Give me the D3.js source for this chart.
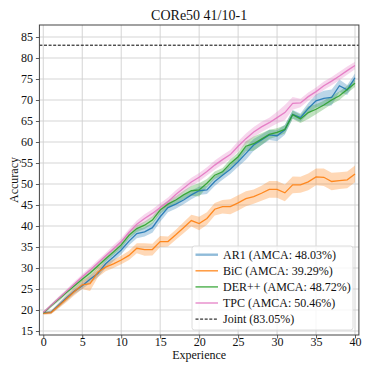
<!DOCTYPE html>
<html><head><meta charset="utf-8">
<script src="https://cdn.jsdelivr.net/npm/d3@7"></script>
<style>
html,body{margin:0;padding:0;background:#fff;}
svg{display:block;font-family:"Liberation Serif","Times New Roman",serif;}
</style></head>
<body>
<svg id="c" width="374" height="374"></svg>
<script>
const title = "CORe50 41/10-1";
const xLabel = "Experience";
const yLabel = "Accuracy";
const experiences = d3.range(0, 41);
const xTicks = [0,5,10,15,20,25,30,35,40];
const yTicks = [15,20,25,30,35,40,45,50,55,60,65,70,75,80,85];
const seriesNames = ["AR1 (AMCA: 48.03%)","BiC (AMCA: 39.29%)","DER++ (AMCA: 48.72%)","TPC (AMCA: 50.46%)"];
const jointLabel = "Joint (83.05%)";
const jointValue = 83.05;
const colors = ["#1f77b4","#ff7f0e","#2ca02c","#e377c2"];

const ar1 = [19.3,19.5,21.2,22.9,24.5,25.8,27.3,28.7,31.0,32.6,34.3,36.4,38.2,38.6,39.6,42.2,44.4,45.2,46.2,47.4,48.4,48.6,50.6,52.1,53.5,55.3,57.3,59.3,60.5,61.7,61.5,62.9,66.6,65.8,68.0,69.8,70.4,70.6,73.4,72.4,75.3];
const ar1Std = [0.3,0.4,0.6,0.7,0.7,0.8,0.9,0.9,1.0,1.0,1.0,1.0,1.1,1.1,1.2,1.2,1.1,1.1,1.0,1.0,1.0,1.0,1.1,1.1,1.1,1.2,1.5,1.4,1.3,1.2,1.3,1.2,1.0,1.0,1.3,1.5,1.8,1.9,1.5,1.2,1.0];
const bic = [19.2,19.4,21.0,22.7,24.4,26.0,26.3,29.0,30.2,31.0,31.9,33.0,34.7,34.4,34.4,36.3,36.3,37.9,39.6,41.3,40.6,41.8,44.0,44.6,44.6,45.5,46.5,47.0,47.8,48.7,48.7,47.9,49.8,49.8,50.5,51.7,51.6,50.6,50.8,51.0,52.4];
const bicStd = [0.3,0.4,0.6,0.8,0.9,1.0,1.8,1.2,1.0,1.0,1.0,1.1,1.2,1.5,1.4,1.3,1.2,1.2,1.3,1.4,1.6,1.5,1.5,1.6,1.8,1.8,1.8,1.7,1.8,2.0,2.0,2.0,2.0,1.9,2.0,2.0,2.1,2.1,2.0,2.0,2.0];
const derpp = [19.3,21.0,22.6,24.2,25.8,27.3,28.8,30.5,32.2,33.8,35.5,37.8,39.4,40.2,41.4,43.8,45.2,46.2,47.4,48.4,48.6,50.2,52.1,52.9,54.9,56.5,59.0,59.6,60.7,61.8,62.3,63.0,66.5,65.5,67.0,67.8,68.8,70.0,71.0,72.5,74.0];
const derppStd = [0.3,0.4,0.5,0.5,0.6,0.6,0.7,0.7,0.7,0.7,0.8,0.8,0.8,0.9,0.9,0.9,0.9,0.9,1.0,1.2,1.6,1.0,0.9,0.9,1.0,1.0,1.2,1.7,1.4,1.1,1.0,1.0,1.0,1.0,1.5,1.2,1.0,1.0,1.0,0.9,0.9];
const tpc = [19.4,21.1,22.8,24.5,26.2,27.9,29.5,31.2,32.9,34.6,36.3,38.5,40.4,41.8,43.0,44.4,45.8,47.5,49.0,50.5,51.6,53.0,54.5,55.8,57.0,59.0,60.8,62.4,63.6,64.6,65.8,67.0,69.2,69.3,70.8,72.0,73.4,74.5,75.7,77.0,78.2];
const tpcStd = [0.3,0.4,0.5,0.5,0.6,0.6,0.7,0.7,0.7,0.8,0.8,0.8,0.9,1.0,1.0,1.0,1.0,1.0,1.0,1.0,1.0,1.0,1.1,1.1,1.1,1.2,1.2,1.2,1.2,1.2,1.4,1.8,1.5,1.0,1.0,1.0,1.0,1.0,1.0,1.0,0.9];

const means = [ar1, bic, derpp, tpc];
const stds = [ar1Std, bicStd, derppStd, tpcStd];

const svg = d3.select("#c");
const L = 39.4, R = 358.9, T = 25, B = 335;
const x = d3.scaleLinear().domain([-0.5, 40.5]).range([L, R]);
const y = d3.scaleLinear().domain([14.05, 87.86]).range([B, T]);

// grid
const g = svg.append("g");
g.selectAll("line.vx").data(xTicks).join("line")
  .attr("x1", d=>x(d)).attr("x2", d=>x(d)).attr("y1", T).attr("y2", B)
  .attr("stroke", "#d0d0d0").attr("stroke-width", 0.9);
g.selectAll("line.hy").data(yTicks).join("line")
  .attr("y1", d=>y(d)).attr("y2", d=>y(d)).attr("x1", L).attr("x2", R)
  .attr("stroke", "#d0d0d0").attr("stroke-width", 0.9);

// bands and lines
svg.append("clipPath").attr("id","clip").append("rect")
  .attr("x", L).attr("y", T).attr("width", R-L).attr("height", B-T);
const plot = svg.append("g").attr("clip-path","url(#clip)");
means.forEach((m, i) => {
  const s = stds[i];
  const area = d3.area().x((d,j)=>x(experiences[j])).y0((d,j)=>y(m[j]-s[j])).y1((d,j)=>y(m[j]+s[j]));
  plot.append("path").datum(m).attr("d", area).attr("fill", colors[i]).attr("fill-opacity", 0.3);
});
means.forEach((m, i) => {
  const line = d3.line().x((d,j)=>x(experiences[j])).y(d=>y(d));
  plot.append("path").datum(m).attr("d", line).attr("fill","none")
    .attr("stroke", colors[i]).attr("stroke-width", 1.3).attr("stroke-opacity", 0.9);
});
plot.append("line").attr("x1", L).attr("x2", R).attr("y1", y(jointValue)).attr("y2", y(jointValue))
  .attr("stroke", "#000").attr("stroke-width", 1).attr("stroke-dasharray", "3,1.6");

// axes
const xAxis = d3.axisBottom(x).tickValues(xTicks).tickSize(3.5).tickPadding(3);
const yAxis = d3.axisLeft(y).tickValues(yTicks).tickSize(3.5).tickPadding(3);
const gx = svg.append("g").attr("transform", `translate(0,${B})`).call(xAxis);
const gy = svg.append("g").attr("transform", `translate(${L},0)`).call(yAxis);
[gx, gy].forEach(ax => {
  ax.attr("font-family", null);
  ax.select(".domain").remove();
  ax.selectAll(".tick line").attr("stroke", "#333").attr("stroke-width", 0.8);
  ax.selectAll(".tick text").attr("font-size", 12).attr("fill", "#111");
});
gx.selectAll(".tick text").attr("y", 11.3).attr("dy", null);

svg.append("rect").attr("x", L).attr("y", T).attr("width", R-L).attr("height", B-T)
  .attr("fill", "none").attr("stroke", "#444").attr("stroke-width", 1);

// labels
svg.append("text").attr("x", (L+R)/2).attr("y", 20).attr("text-anchor","middle")
  .attr("font-size", 14).attr("fill","#111").text(title);
svg.append("text").attr("x", (L+R)/2).attr("y", 359).attr("text-anchor","middle")
  .attr("font-size", 12).attr("fill","#111").text(xLabel);
svg.append("text").attr("transform", `translate(17.5,${(T+B)/2}) rotate(-90)`).attr("text-anchor","middle")
  .attr("font-size", 12).attr("fill","#111").text(yLabel);

// legend
const lg = svg.append("g");
lg.append("rect").attr("x", 192).attr("y", 246).attr("width", 161).attr("height", 84).attr("rx", 2.5)
  .attr("fill", "#fff").attr("fill-opacity", 0.8).attr("stroke", "#d8d8d8").attr("stroke-width", 0.9);
const entries = seriesNames.map((n,i)=>({name:n, color:colors[i], dash:null, w: i===0 ? 2.4 : 1.5, op: i===0 ? 0.5 : 0.8}))
  .concat([{name:jointLabel, color:"#000", dash:"3,1.6", w:1, op:1}]);
entries.forEach((e, i) => {
  const cy = 254.7 + i*16.1;
  lg.append("line").attr("x1", 195.5).attr("x2", 218).attr("y1", cy).attr("y2", cy)
    .attr("stroke", e.color).attr("stroke-width", e.w).attr("stroke-opacity", e.op)
    .attr("stroke-dasharray", e.dash);
  lg.append("text").attr("x", 223).attr("y", cy).attr("dy", "0.35em")
    .attr("font-size", 12).attr("fill", "#111").text(e.name);
});
</script>
</body></html>
